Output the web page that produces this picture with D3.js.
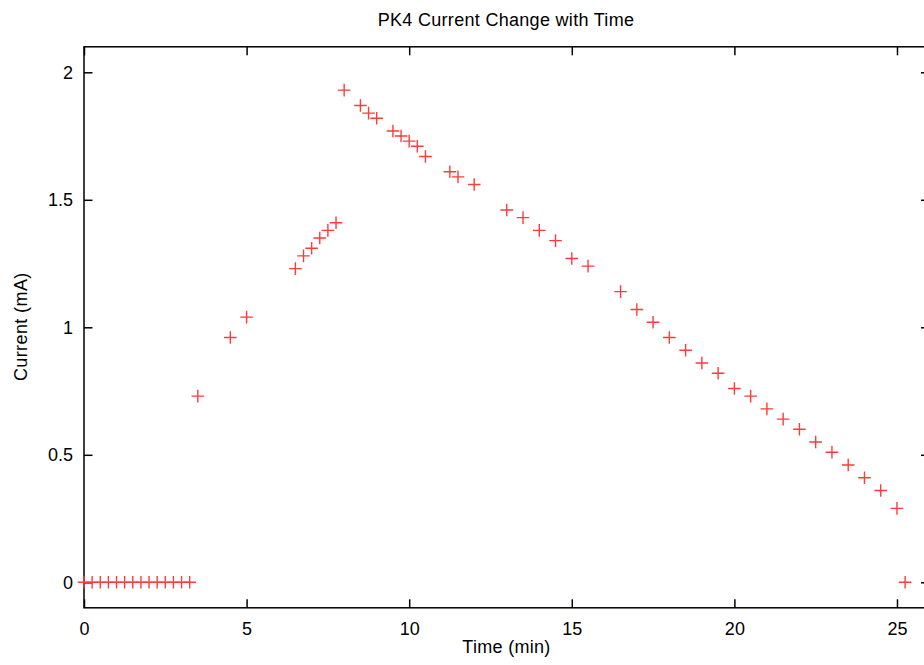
<!DOCTYPE html>
<html>
<head>
<meta charset="utf-8">
<script src="https://cdn.jsdelivr.net/npm/d3@7"></script>
<style>
  html, body { margin: 0; padding: 0; background: #fff; }
  svg { display: block; }
  text { font-family: "Liberation Sans", Arial, Helvetica, sans-serif; fill: #000; }
</style>
</head>
<body>
<svg id="chart" width="924" height="665"></svg>
<script>
// ---- data ----
const times = [
  0, 0.25, 0.5, 0.75, 1, 1.25, 1.5, 1.75, 2, 2.25, 2.5, 2.75, 3, 3.25,
  3.5, 4.5, 5, 6.5, 6.75, 7, 7.25, 7.5, 7.75,
  8, 8.5, 8.75, 9, 9.5, 9.75, 10, 10.25, 10.5, 11.25, 11.5, 12,
  13, 13.5, 14, 14.5, 15, 15.5, 16.5,
  17, 17.5, 18, 18.5, 19, 19.5, 20, 20.5, 21, 21.5, 22, 22.5, 23, 23.5, 24, 24.5, 25, 25.25
];
const currents = [
  0, 0, 0, 0, 0, 0, 0, 0, 0, 0, 0, 0, 0, 0,
  0.73, 0.96, 1.04, 1.23, 1.28, 1.31, 1.35, 1.38, 1.41,
  1.93, 1.87, 1.84, 1.82, 1.77, 1.75, 1.73, 1.71, 1.67, 1.61, 1.59, 1.56,
  1.46, 1.43, 1.38, 1.34, 1.27, 1.24, 1.14,
  1.07, 1.02, 0.96, 0.91, 0.86, 0.82, 0.76, 0.73, 0.68, 0.64, 0.60, 0.55, 0.51, 0.46, 0.41, 0.36, 0.29, 0
];
const xTicks = [0, 5, 10, 15, 20, 25];
const xTickLabels = ["0", "5", "10", "15", "20", "25"];
const yTicks = [0, 0.5, 1, 1.5, 2];
const yTickLabels = ["0", "0.5", "1", "1.5", "2"];
const titleText = "PK4 Current Change with Time";
const xLabel = "Time (min)";
const yLabel = "Current (mA)";

// ---- layout ----
const svg = d3.select("#chart");
const plotL = 84, plotR = 929.5, plotT = 46.8, plotB = 607.8;
const x = d3.scaleLinear().domain([0, 26]).range([plotL, plotR]);
const y = d3.scaleLinear().domain([-0.1, 2.1]).range([plotB, plotT]);
const tickLen = 8.5;
const fontSize = 18;

// border
svg.append("rect")
  .attr("x", plotL).attr("y", plotT)
  .attr("width", plotR - plotL).attr("height", plotB - plotT)
  .attr("fill", "none").attr("stroke", "#000").attr("stroke-width", 1.5);

function styleAxis(g) {
  g.select(".domain").remove();
  g.selectAll(".tick line").attr("stroke", "#000").attr("stroke-width", 1.5);
  g.selectAll(".tick text")
    .attr("font-size", fontSize)
    .attr("font-family", '"Liberation Sans", Arial, Helvetica, sans-serif')
    .attr("fill", "#000");
}

// bottom axis
svg.append("g")
  .attr("transform", `translate(0,${plotB})`)
  .call(d3.axisBottom(x).tickValues(xTicks)
    .tickFormat((d, i) => xTickLabels[i])
    .tickSizeInner(-tickLen).tickSizeOuter(0).tickPadding(14))
  .call(styleAxis);

// top axis (ticks only)
svg.append("g")
  .attr("transform", `translate(0,${plotT})`)
  .call(d3.axisTop(x).tickValues(xTicks).tickFormat("")
    .tickSizeInner(-tickLen).tickSizeOuter(0))
  .call(styleAxis);

// left axis
svg.append("g")
  .attr("transform", `translate(${plotL},0)`)
  .call(d3.axisLeft(y).tickValues(yTicks)
    .tickFormat((d, i) => yTickLabels[i])
    .tickSizeInner(-tickLen).tickSizeOuter(0).tickPadding(11))
  .call(styleAxis);

// right axis (ticks only)
svg.append("g")
  .attr("transform", `translate(${plotR},0)`)
  .call(d3.axisRight(y).tickValues(yTicks).tickFormat("")
    .tickSizeInner(-tickLen).tickSizeOuter(0))
  .call(styleAxis);

// title and labels
svg.append("text")
  .attr("x", 506).attr("y", 25.5)
  .attr("text-anchor", "middle")
  .attr("font-size", fontSize)
  .attr("letter-spacing", 0.3)
  .text(titleText);

svg.append("text")
  .attr("x", 506.5).attr("y", 652.7)
  .attr("text-anchor", "middle")
  .attr("font-size", fontSize)
  .attr("letter-spacing", 0.3)
  .text(xLabel);

svg.append("text")
  .attr("transform", `translate(26.5,326.7) rotate(-90)`)
  .attr("text-anchor", "middle")
  .attr("font-size", fontSize)
  .attr("letter-spacing", 0.4)
  .text(yLabel);

// points as '+' markers
const half = 6.3;
const pts = times.map((t, i) => ({ t, c: currents[i] }));
const marks = svg.append("g")
  .attr("stroke", "#ff3b3b")
  .attr("stroke-width", 1.4)
  .attr("fill", "none");
marks.selectAll("path")
  .data(pts)
  .join("path")
  .attr("d", d => {
    const px = x(d.t), py = y(d.c);
    return `M${px - half},${py}H${px + half}M${px},${py - half}V${py + half}`;
  });
</script>
</body>
</html>
